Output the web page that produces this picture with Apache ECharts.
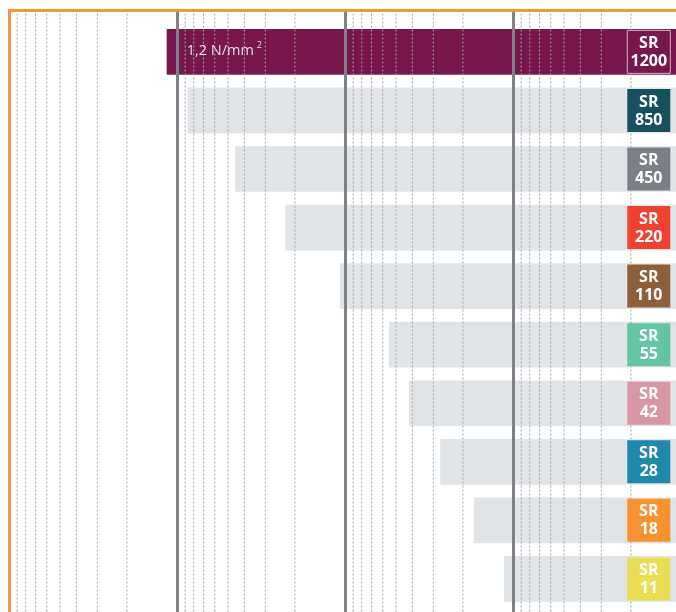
<!DOCTYPE html>
<html><head><meta charset="utf-8">
<script src="https://cdn.jsdelivr.net/npm/echarts@6/dist/echarts.min.js"></script>
<style>html,body{margin:0;padding:0;background:#fff}#c{width:676px;height:612px}</style>
</head><body><div id="c"></div>
<script>
// ---- data ----
const categories = ['SR 1200','SR 850','SR 450','SR 220','SR 110','SR 55','SR 42','SR 28','SR 18','SR 11'];
const labelTop = ['SR','SR','SR','SR','SR','SR','SR','SR','SR','SR'];
const labelNumbers = ['1200','850','450','220','110','55','42','28','18','11'];
// compressive strength (N/mm², log scale)
const values = [1.16, 0.87, 0.455, 0.228, 0.108, 0.055, 0.042, 0.0273, 0.0172, 0.0114];
const labelColors = ['#78184a','#17505f','#7b7f86','#ee4130','#8e5f3b','#63c5a2','#d996a5','#2088a9','#f6922f','#e9dd56'];
const barColors = ['#78184a','#e1e4e7','#e1e4e7','#e1e4e7','#e1e4e7','#e1e4e7','#e1e4e7','#e1e4e7','#e1e4e7','#e1e4e7'];
const annotationMain = '1,2 N/mm';
const annotationSup = '2';
const AXIS_MIN = 0.001, AXIS_MAX = 10;
const decades = [0.001, 0.01, 0.1, 1];
const minorSteps = [2,3,4,5,6,7,8,9];
const minorTicks = [];
decades.forEach(d => minorSteps.forEach(k => minorTicks.push(+(k*d).toPrecision(3))));

const chart = echarts.init(document.getElementById('c'), null, {renderer:'canvas'});
const xBase = {type:'log', logBase:10, min:AXIS_MIN, max:AXIS_MAX, inverse:true,
  axisLabel:{show:false}, axisTick:{show:false}, axisLine:{show:false}};
const BAR_RATIO = 0.78;

const option = {
  animation:false,
  grid:[
    {left:9.5, width:672, top:10.5, height:625, show:true, borderColor:'#f7953a', borderWidth:3,
      backgroundColor:'transparent', z:8, outerBoundsMode:'none', containLabel:false},
    {left:9.5, width:672, top:22.6, height:585.6, outerBoundsMode:'none', containLabel:false}
  ],
  xAxis:[
    Object.assign({}, xBase, {gridIndex:0, z:3, splitLine:{show:true, lineStyle:{color:'#7e8288', width:3}}}),
    Object.assign({}, xBase, {gridIndex:1, splitLine:{show:false}})
  ],
  yAxis:[
    {type:'value', gridIndex:0, min:0, max:1, show:false},
    {type:'category', gridIndex:1, data:categories, inverse:true, show:false}
  ],
  series:[
    {
      type:'custom', xAxisIndex:1, yAxisIndex:1, z:2, silent:true, clip:false,
      data: values.map((v,i)=>[v,i]), encode:{x:0,y:1},
      renderItem:(params, api)=>{
        const i = api.value(1), v = api.value(0);
        const s = api.coord([v,i]), e = api.coord([AXIS_MIN,i]);
        const h = api.size([0,1],[v,i])[1]*BAR_RATIO;
        return {type:'rect', shape:{x:s[0], y:s[1]-h/2, width:e[0]-s[0], height:h}, style:{fill:barColors[i]}};
      }
    },
    {
      type:'custom', xAxisIndex:0, yAxisIndex:0, z:3, silent:true, clip:false,
      data: minorTicks.map(v=>[v,0]), encode:{x:0,y:1},
      renderItem:(params, api)=>{
        const v = api.value(0);
        const p1 = api.coord([v,0]), p2 = api.coord([v,1]);
        return {type:'line', shape:{x1:p1[0], y1:p1[1], x2:p2[0], y2:p2[1]},
          style:{stroke:'#a3a3a3', lineWidth:1, lineDash:[2,2]}};
      }
    },
    {
      type:'custom', xAxisIndex:1, yAxisIndex:1, z:10, silent:true, clip:false,
      data: values.map((v,i)=>[v,i]), encode:{x:0,y:1},
      renderItem:(params, api)=>{
        const i = api.value(1), v = api.value(0);
        const e = api.coord([AXIS_MIN,i]);
        const right = e[0]-11.2, cy = e[1], w = 43;
        const children = [
          {type:'rect', shape:{x:right-w, y:cy-w/2, width:w, height:w},
            style:{fill:labelColors[i], stroke: i===0 ? '#d9a9c2' : null, lineWidth:1}},
          {type:'text', style:{text:labelTop[i]+'\n'+labelNumbers[i], x:right-w/2, y:cy+0.5,
            align:'center', verticalAlign:'middle', textAlign:'center', textVerticalAlign:'middle',
            fill:'#ffffff', font:'bold 16px "Open Sans", sans-serif', lineHeight:18}}
        ];
        if (i===0) {
          const s = api.coord([v,i]);
          children.push({type:'text', style:{
            text:'{a|'+annotationMain+'}{b|'+annotationSup+'}', x:s[0]+20, y:cy-1.5,
            align:'left', verticalAlign:'middle', textAlign:'left', textVerticalAlign:'middle',
            rich:{a:{fill:'#ecd9e3', color:'#ecd9e3', fontSize:14.5, fontFamily:'"Open Sans", sans-serif'},
                  b:{fill:'#ecd9e3', color:'#ecd9e3', fontSize:9, fontFamily:'"Open Sans", sans-serif', padding:[0,0,9,3]}}
          }});
        }
        return {type:'group', children};
      }
    }
  ]
};
chart.setOption(option);
</script></body></html>
